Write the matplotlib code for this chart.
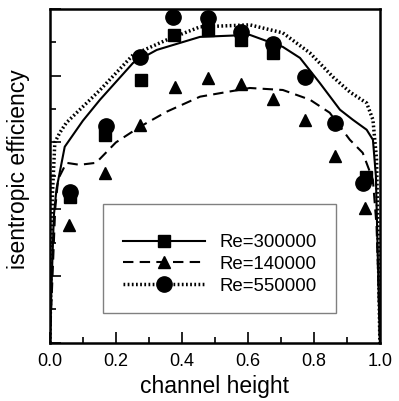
import matplotlib
matplotlib.use('Agg')
import matplotlib.pyplot as plt
from matplotlib.lines import Line2D
from matplotlib.patches import Rectangle
from matplotlib.ticker import MultipleLocator, NullFormatter

plt.rcParams['font.family'] = ['Liberation Sans', 'DejaVu Sans']

# measured points
sq_x = [0.06, 0.167, 0.276, 0.376, 0.479, 0.579, 0.676, 0.958]
sq_y = [0.437, 0.623, 0.787, 0.922, 0.937, 0.907, 0.868, 0.497]
tri_x = [0.058, 0.167, 0.273, 0.379, 0.479, 0.579, 0.676, 0.773, 0.864, 0.955]
tri_y = [0.353, 0.509, 0.653, 0.766, 0.793, 0.775, 0.73, 0.668, 0.56, 0.404]
cir_x = [0.06, 0.17, 0.273, 0.373, 0.479, 0.579, 0.676, 0.773, 0.864, 0.948]
cir_y = [0.452, 0.65, 0.856, 0.976, 0.973, 0.931, 0.895, 0.796, 0.659, 0.479]

# computed profiles
sol_x = [0.0, 0.006, 0.012, 0.02, 0.045, 0.1, 0.152, 0.252, 0.324, 0.455, 0.606, 0.706, 0.758,
         0.818, 0.879, 0.918, 0.96, 0.979, 0.988, 0.994, 1.0]
sol_y = [0.0, 0.2, 0.38, 0.46, 0.587, 0.665, 0.728, 0.838, 0.877, 0.916, 0.922, 0.886, 0.853,
         0.778, 0.698, 0.668, 0.638, 0.608, 0.5, 0.25, 0.0]
das_x = [0.0, 0.008, 0.016, 0.025, 0.05, 0.09, 0.14, 0.2, 0.273, 0.354, 0.455, 0.606, 0.706,
         0.788, 0.848, 0.909, 0.948, 0.979, 0.99, 0.995, 1.0]
das_y = [0.0, 0.2, 0.4, 0.49, 0.539, 0.533, 0.539, 0.6, 0.647, 0.692, 0.737, 0.763, 0.757,
         0.728, 0.689, 0.608, 0.569, 0.488, 0.35, 0.2, 0.0]
dot_x = [0.0, 0.004, 0.008, 0.015, 0.03, 0.05, 0.152, 0.252, 0.354, 0.455, 0.606, 0.706, 0.788,
         0.858, 0.909, 0.96, 0.979, 0.99, 0.995, 1.0]
dot_y = [0.0, 0.25, 0.45, 0.6, 0.629, 0.659, 0.757, 0.862, 0.907, 0.946, 0.952, 0.928, 0.868,
         0.796, 0.751, 0.718, 0.668, 0.55, 0.3, 0.0]

labels = ['Re=300000', 'Re=140000', 'Re=550000']

fig = plt.figure(figsize=(3.99, 4.01), dpi=100)
ax = fig.add_axes([0.125, 0.145, 0.827, 0.833])

ax.plot(sol_x, sol_y, color='black', lw=1.5, ls='-')
ax.plot(das_x, das_y, color='black', lw=1.5, ls=(0, (5, 3)))
ax.plot(dot_x, dot_y, color='black', lw=2.5, ls=(0, (0.5, 0.7)))
ax.plot(sq_x, sq_y, ls='none', marker='s', ms=8.5, color='black')
ax.plot(tri_x, tri_y, ls='none', marker='^', ms=9, color='black')
ax.plot(cir_x, cir_y, ls='none', marker='o', ms=11, color='black')

ax.set_xlim(0, 1)
ax.set_ylim(0, 1)
ax.xaxis.set_major_locator(MultipleLocator(0.2))
ax.xaxis.set_minor_locator(MultipleLocator(0.1))
ax.yaxis.set_major_locator(MultipleLocator(0.2))
ax.yaxis.set_minor_locator(MultipleLocator(0.1))
ax.yaxis.set_major_formatter(NullFormatter())
ax.tick_params(which='both', direction='in', width=1.2)
ax.tick_params(which='major', length=8)
ax.tick_params(which='minor', length=4)
ax.tick_params(axis='x', labelsize=13, pad=7)
for s in ax.spines.values():
    s.set_linewidth(1.8)

ax.set_xlabel('channel height', fontsize=16.5, labelpad=4)
ax.set_ylabel('isentropic efficiency', fontsize=16.5, labelpad=11)
ax.yaxis.label.set_y(0.52)

# legend box
ax.add_patch(Rectangle((0.161, 0.09), 0.706, 0.326, transform=ax.transAxes,
                       facecolor='white', edgecolor='gray', lw=1.0, zorder=4))
handles = [
    Line2D([], [], color='black', lw=1.5, ls='-', marker='s', ms=8.5),
    Line2D([], [], color='black', lw=1.5, ls=(0, (5, 3)), marker='^', ms=9),
    Line2D([], [], color='black', lw=2.5, ls=(0, (0.5, 0.7)), marker='o', ms=11),
]
leg = ax.legend(handles, labels, loc='center', bbox_to_anchor=(0.516, 0.235), fontsize=13.4,
                handlelength=4.4, handletextpad=0.8, borderpad=0.2, labelspacing=0.25,
                frameon=False)
leg.set_zorder(5)

fig.savefig('out.png', dpi=100)
